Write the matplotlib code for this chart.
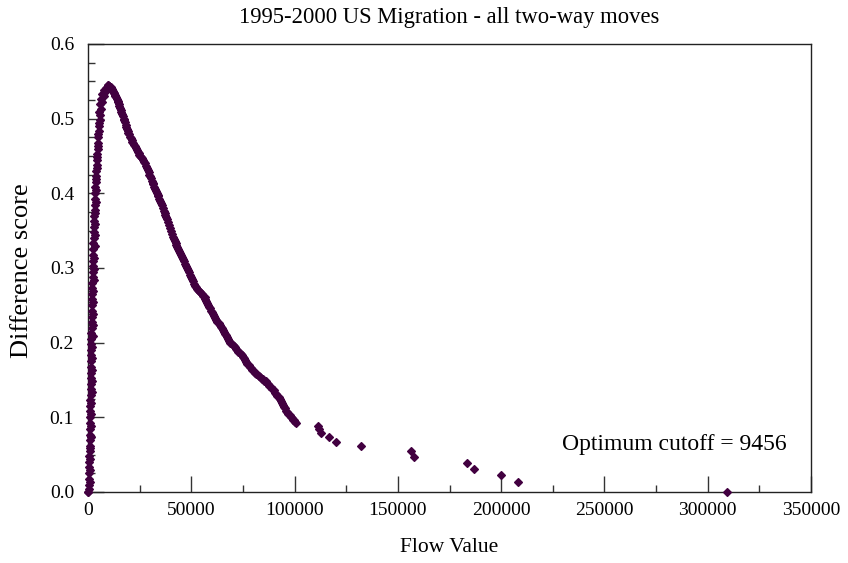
import matplotlib
matplotlib.use('Agg')
import matplotlib.pyplot as plt
from matplotlib.ticker import MultipleLocator, FormatStrFormatter

plt.rcParams['font.family'] = ['Liberation Serif', 'DejaVu Serif']

## data: flow value vs difference score
# steep rise near zero
rise_flow = [0, 120, 300, 450, 520, 600, 640, 680, 720, 760, 800, 850, 900, 960, 1010,
             1060, 1100, 1140, 1180, 1220, 1260, 1300, 1340, 1380, 1420, 1460, 1500,
             1540, 1580, 1620, 1670, 1720, 1770, 1820, 1870, 1920, 1980, 2040, 2100,
             2160, 2220, 2290, 2360, 2430, 2500, 2580, 2660, 2740, 2820, 2900, 2990,
             3080, 3180, 3280, 3390, 3500, 3620, 3750, 3880, 4020, 4170, 4330, 4500,
             4680, 4870, 5070, 5280, 5500, 5750, 6020, 6400, 7000, 7600, 8200, 8800, 9456]
rise_score = [0.000, 0.000, 0.004, 0.010, 0.018, 0.025, 0.033, 0.040, 0.048, 0.055, 0.062,
              0.070, 0.077, 0.085, 0.092, 0.100, 0.108, 0.115, 0.123, 0.130, 0.138, 0.145,
              0.153, 0.160, 0.168, 0.175, 0.183, 0.190, 0.198, 0.205, 0.213, 0.220, 0.228,
              0.235, 0.243, 0.250, 0.258, 0.265, 0.273, 0.280, 0.288, 0.295, 0.303, 0.310,
              0.318, 0.325, 0.333, 0.340, 0.348, 0.355, 0.363, 0.370, 0.378, 0.385, 0.393,
              0.400, 0.408, 0.415, 0.423, 0.430, 0.438, 0.445, 0.453, 0.460, 0.468, 0.475,
              0.483, 0.490, 0.498, 0.505, 0.513, 0.522, 0.530, 0.536, 0.541, 0.545]

# more small flows filling the same band
rise2_flow = [900, 1000, 1100, 1200, 1300, 1400, 1500, 1600, 1700, 1800, 1900, 2000,
              2100, 2200, 2300, 2400, 2500, 2600, 2700, 2850, 3000, 3150, 3300, 3450,
              3600, 3750, 3900, 4050, 4200, 4400, 4600, 4850, 5100, 5400, 5800, 6300,
              6900, 7700]
rise2_score = [0.014, 0.029, 0.044, 0.059, 0.074, 0.089, 0.104, 0.119, 0.134, 0.149,
               0.164, 0.179, 0.194, 0.209, 0.224, 0.239, 0.254, 0.269, 0.284, 0.299,
               0.314, 0.329, 0.344, 0.359, 0.374, 0.389, 0.404, 0.419, 0.434, 0.449,
               0.464, 0.479, 0.494, 0.509, 0.520, 0.527, 0.533, 0.539]

# slow decline after the peak
fall_flow = [9900, 10400, 11000, 11600, 12100, 12700, 13300, 14000, 14600, 15200, 15900,
             16500, 17200, 17900, 18500, 19200, 19900, 20700, 21500, 22300, 23100, 24000,
             24900, 25800, 26700, 27600, 28500, 29300, 30100, 30900, 31700, 32500, 33300,
             34100, 34900, 35700, 36600, 37500, 38300, 39200, 40100, 41100, 42000, 42800,
             43600, 44500, 45400, 46300, 47300, 48300, 49300, 50300, 51400, 52400, 53400,
             54400, 55400, 56400, 57300, 58200, 59200, 60200, 61100, 62100, 63200, 64300,
             65300, 66300, 67200, 68200, 69400, 70600, 71700, 72800, 73900, 75000, 76000,
             77100, 78400, 79600, 80900, 82200, 83400, 84800, 86000, 87200, 88500, 89800,
             91000, 92300, 93400, 94400, 95400, 96500, 97600, 98600, 99700, 100900]
fall_score = [0.545, 0.544, 0.542, 0.540, 0.537, 0.534, 0.531, 0.527, 0.522, 0.517, 0.512,
              0.506, 0.500, 0.496, 0.489, 0.484, 0.479, 0.474, 0.469, 0.465, 0.461, 0.456,
              0.452, 0.449, 0.445, 0.440, 0.434, 0.428, 0.423, 0.417, 0.412, 0.406, 0.401,
              0.396, 0.390, 0.384, 0.377, 0.371, 0.365, 0.357, 0.350, 0.342, 0.336, 0.331,
              0.326, 0.320, 0.315, 0.309, 0.303, 0.297, 0.291, 0.285, 0.279, 0.274, 0.271,
              0.268, 0.265, 0.261, 0.256, 0.251, 0.246, 0.241, 0.236, 0.231, 0.226, 0.221,
              0.217, 0.212, 0.208, 0.202, 0.199, 0.196, 0.192, 0.188, 0.185, 0.181, 0.177,
              0.172, 0.168, 0.164, 0.160, 0.157, 0.154, 0.151, 0.148, 0.144, 0.140, 0.136,
              0.131, 0.127, 0.122, 0.117, 0.112, 0.107, 0.103, 0.099, 0.096, 0.092]

# further flows along the decline
fall2_flow = [10150, 10700, 11300, 11850, 12400, 13000, 13650, 14300, 14900, 15550,
              16200, 16850, 17550, 18200, 18850, 19550, 20300, 21100, 21900, 22700,
              23550, 24450, 25350, 26250, 27150, 28050, 28900, 29700, 30500, 31300,
              32100, 32900, 33700, 34500, 35300, 36150, 37050, 37900, 38750, 39650,
              40600, 41550, 42400, 43200, 44050, 44950, 45850, 46800, 47800, 48800,
              49800, 50850, 51900, 52900, 53900, 54900, 55900, 56850, 57750, 58700,
              59700, 60650, 61600, 62650, 63750, 64800, 65800, 66750, 67700, 68800,
              70000, 71150, 72250, 73350, 74450, 75500, 76550, 77750, 79000, 80250,
              81550, 82800, 84100, 85400, 86600, 87850, 89150, 90400, 91650, 92850,
              93900, 94900, 95950, 97050, 98100, 99150, 100300]
fall2_score = [0.544, 0.543, 0.541, 0.538, 0.535, 0.532, 0.529, 0.524, 0.519, 0.514,
               0.509, 0.503, 0.498, 0.492, 0.486, 0.481, 0.476, 0.471, 0.467, 0.463,
               0.458, 0.454, 0.450, 0.447, 0.442, 0.437, 0.431, 0.425, 0.420, 0.414,
               0.409, 0.403, 0.398, 0.393, 0.387, 0.380, 0.374, 0.368, 0.361, 0.353,
               0.346, 0.339, 0.333, 0.328, 0.323, 0.317, 0.312, 0.306, 0.300, 0.294,
               0.288, 0.282, 0.276, 0.272, 0.269, 0.266, 0.263, 0.258, 0.253, 0.248,
               0.243, 0.238, 0.233, 0.228, 0.223, 0.219, 0.214, 0.210, 0.205, 0.200,
               0.197, 0.194, 0.190, 0.186, 0.183, 0.179, 0.174, 0.170, 0.166, 0.162,
               0.158, 0.155, 0.152, 0.149, 0.146, 0.142, 0.138, 0.133, 0.129, 0.124,
               0.119, 0.114, 0.109, 0.105, 0.101, 0.097, 0.094]

# scattered large flows
tail_flow = [111200, 111900, 112600, 116700, 120100, 132300, 156200, 158000, 183500,
             187000, 200100, 208000, 309300]
tail_score = [0.089, 0.084, 0.079, 0.073, 0.067, 0.062, 0.055, 0.047, 0.039, 0.031,
              0.023, 0.013, 0.000]

optimum = 9456
col = '#420040'

flow = rise_flow + rise2_flow + fall_flow + fall2_flow + tail_flow
score = rise_score + rise2_score + fall_score + fall2_score + tail_score

fig = plt.figure(figsize=(8.48, 5.63), dpi=100)
ax = fig.add_axes([88/848, 71/563, 723/848, 448/563])
ax.plot(flow, score, linestyle='none', marker='D', markersize=4.2,
        color=col, markeredgecolor=col, markeredgewidth=0.9, clip_on=False, zorder=3)

ax.set_xlim(0, 350000)
ax.set_ylim(0, 0.6)
ax.xaxis.set_major_locator(MultipleLocator(50000))
ax.xaxis.set_minor_locator(MultipleLocator(25000))
ax.yaxis.set_major_locator(MultipleLocator(0.1))
ax.yaxis.set_minor_locator(MultipleLocator(0.025))
ax.yaxis.set_major_formatter(FormatStrFormatter('%.1f'))
ax.tick_params(which='both', direction='in', top=False, right=False, width=1, color='#333333')
ax.tick_params(which='major', length=11.5, labelsize=14)
ax.tick_params(which='minor', length=5)
ax.tick_params(axis='x', which='major', pad=7)
ax.tick_params(axis='y', which='major', pad=10)
for s in ax.spines.values():
    s.set_linewidth(1)
    s.set_color('#222222')

fig.text(449.5/848, 1 - 18/563, '1995-2000 US Migration - all two-way moves',
         ha='center', va='center', fontsize=16.3)
fig.text(449.5/848, 1 - 548/563, 'Flow Value', ha='center', va='center', fontsize=15.5)
fig.text(22/848, 1 - 271/563, 'Difference score', ha='center', va='center',
         rotation=90, fontsize=19)
ax.text(229500, 0.063, 'Optimum cutoff = %d' % optimum, ha='left', va='center', fontsize=17)

fig.savefig('out.png', dpi=100)
